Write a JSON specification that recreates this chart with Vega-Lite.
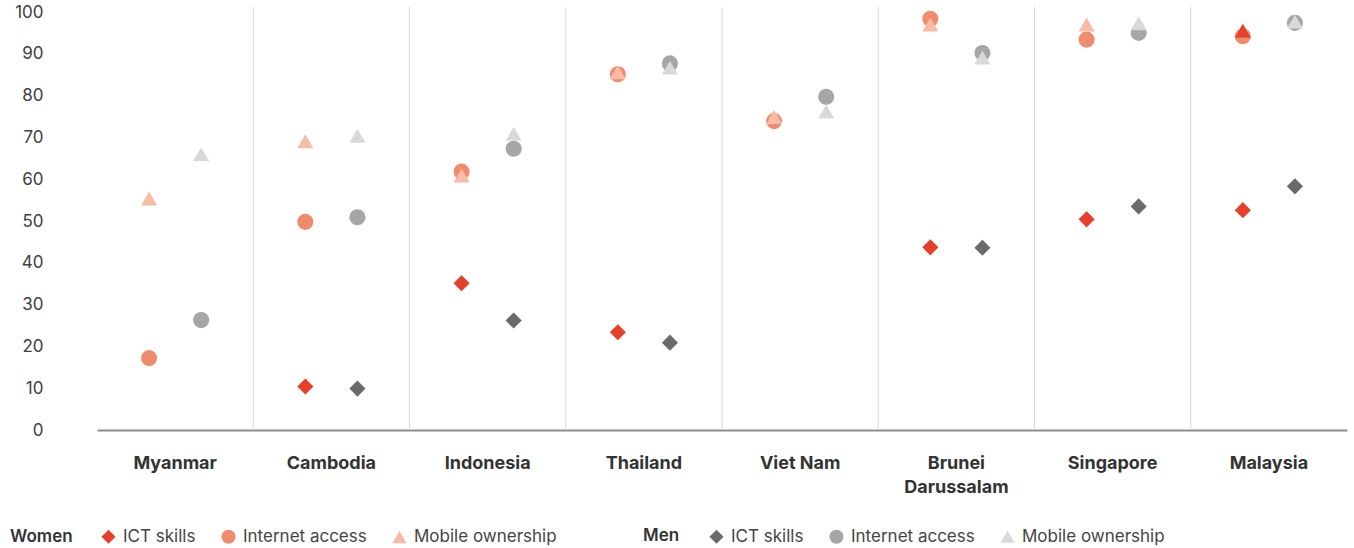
{
  "$schema": "https://vega.github.io/schema/vega-lite/v6.json",
  "width": 1250,
  "height": 423,
  "autosize": {"type": "none"},
  "padding": {"left": 97, "top": 7, "right": 7, "bottom": 118},
  "config": {
    "font": "Inter",
    "view": {"stroke": null},
    "axis": {"grid": false, "ticks": false, "title": null}
  },
  "data": {
    "values": [
      {"country": "Myanmar", "gender": "Women", "measure": "Internet access", "value": 17.2},
      {"country": "Myanmar", "gender": "Women", "measure": "Mobile ownership", "value": 55.4},
      {"country": "Myanmar", "gender": "Men", "measure": "Internet access", "value": 26.3},
      {"country": "Myanmar", "gender": "Men", "measure": "Mobile ownership", "value": 66.0},
      {"country": "Cambodia", "gender": "Women", "measure": "ICT skills", "value": 10.4},
      {"country": "Cambodia", "gender": "Women", "measure": "Internet access", "value": 49.8},
      {"country": "Cambodia", "gender": "Women", "measure": "Mobile ownership", "value": 69.1},
      {"country": "Cambodia", "gender": "Men", "measure": "ICT skills", "value": 9.9},
      {"country": "Cambodia", "gender": "Men", "measure": "Internet access", "value": 50.9},
      {"country": "Cambodia", "gender": "Men", "measure": "Mobile ownership", "value": 70.4},
      {"country": "Indonesia", "gender": "Women", "measure": "ICT skills", "value": 35.1},
      {"country": "Indonesia", "gender": "Women", "measure": "Internet access", "value": 61.8},
      {"country": "Indonesia", "gender": "Women", "measure": "Mobile ownership", "value": 60.9},
      {"country": "Indonesia", "gender": "Men", "measure": "ICT skills", "value": 26.2},
      {"country": "Indonesia", "gender": "Men", "measure": "Internet access", "value": 67.3},
      {"country": "Indonesia", "gender": "Men", "measure": "Mobile ownership", "value": 70.9},
      {"country": "Thailand", "gender": "Women", "measure": "ICT skills", "value": 23.4},
      {"country": "Thailand", "gender": "Women", "measure": "Internet access", "value": 85.1},
      {"country": "Thailand", "gender": "Women", "measure": "Mobile ownership", "value": 85.6},
      {"country": "Thailand", "gender": "Men", "measure": "ICT skills", "value": 20.9},
      {"country": "Thailand", "gender": "Men", "measure": "Internet access", "value": 87.7},
      {"country": "Thailand", "gender": "Men", "measure": "Mobile ownership", "value": 86.7},
      {"country": "Viet Nam", "gender": "Women", "measure": "Internet access", "value": 73.9},
      {"country": "Viet Nam", "gender": "Women", "measure": "Mobile ownership", "value": 74.9},
      {"country": "Viet Nam", "gender": "Men", "measure": "Internet access", "value": 79.7},
      {"country": "Viet Nam", "gender": "Men", "measure": "Mobile ownership", "value": 76.2},
      {"country": "Brunei Darussalam", "gender": "Women", "measure": "ICT skills", "value": 43.7},
      {"country": "Brunei Darussalam", "gender": "Women", "measure": "Internet access", "value": 98.4},
      {"country": "Brunei Darussalam", "gender": "Women", "measure": "Mobile ownership", "value": 97.0},
      {"country": "Brunei Darussalam", "gender": "Men", "measure": "ICT skills", "value": 43.6},
      {"country": "Brunei Darussalam", "gender": "Men", "measure": "Internet access", "value": 90.2},
      {"country": "Brunei Darussalam", "gender": "Men", "measure": "Mobile ownership", "value": 89.1},
      {"country": "Singapore", "gender": "Women", "measure": "ICT skills", "value": 50.4},
      {"country": "Singapore", "gender": "Women", "measure": "Internet access", "value": 93.4},
      {"country": "Singapore", "gender": "Women", "measure": "Mobile ownership", "value": 97.0},
      {"country": "Singapore", "gender": "Men", "measure": "ICT skills", "value": 53.5},
      {"country": "Singapore", "gender": "Men", "measure": "Internet access", "value": 95.0},
      {"country": "Singapore", "gender": "Men", "measure": "Mobile ownership", "value": 97.3},
      {"country": "Malaysia", "gender": "Women", "measure": "ICT skills", "value": 52.6},
      {"country": "Malaysia", "gender": "Women", "measure": "Internet access", "value": 94.2},
      {"country": "Malaysia", "gender": "Women", "measure": "Mobile ownership", "value": 95.5},
      {"country": "Malaysia", "gender": "Men", "measure": "ICT skills", "value": 58.3},
      {"country": "Malaysia", "gender": "Men", "measure": "Internet access", "value": 97.4},
      {"country": "Malaysia", "gender": "Men", "measure": "Mobile ownership", "value": 97.7}
    ]
  },
  "layer": [
    {
      "transform": [
        {"aggregate": [], "groupby": ["country"]},
        {"filter": "datum.country !== 'Myanmar'"}
      ],
      "mark": {"type": "rule", "color": "#D9D9D9", "strokeWidth": 1},
      "encoding": {
        "x": {
          "field": "country", "type": "nominal", "bandPosition": 0,
          "scale": {"domain": ["Myanmar", "Cambodia", "Indonesia", "Thailand", "Viet Nam", "Brunei Darussalam", "Singapore", "Malaysia"], "paddingInner": 0, "paddingOuter": 0},
          "axis": {
            "domain": true, "domainColor": "#8C8C8C", "domainWidth": 2,
            "labelFontSize": 18, "labelFontWeight": "bold", "labelColor": "#333333",
            "labelPadding": 24, "labelAngle": 0, "labelLineHeight": 24,
            "labelExpr": "datum.label == 'Brunei Darussalam' ? ['Brunei', 'Darussalam'] : datum.label"
          }
        }
      }
    },
    {
      "transform": [{"filter": "datum.gender === 'Women'"}],
      "mark": {"type": "point", "filled": true, "size": 260, "opacity": 1},
      "encoding": {
        "x": {"field": "country", "type": "nominal", "scale": {"domain": ["Myanmar", "Cambodia", "Indonesia", "Thailand", "Viet Nam", "Brunei Darussalam", "Singapore", "Malaysia"]}},
        "xOffset": {"field": "gender", "type": "nominal", "scale": {"type": "point", "domain": ["Women", "Men"], "padding": 1.032}},
        "y": {
          "field": "value", "type": "quantitative",
          "scale": {"domain": [0, 101.2], "nice": false},
          "axis": {"values": [0, 10, 20, 30, 40, 50, 60, 70, 80, 90, 100], "domain": false, "labelFontSize": 17, "labelColor": "#404040", "labelPadding": 54}
        },
        "fill": {
          "field": "measure", "type": "nominal",
          "scale": {"domain": ["ICT skills", "Internet access", "Mobile ownership"], "range": ["#E63F2A", "#F08C6E", "#F8BCA6"]},
          "legend": {"title": "Women", "orient": "none", "legendX": -87, "legendY": 521, "direction": "horizontal", "titleOrient": "left", "titleFontSize": 17, "titleFontWeight": 600, "titleColor": "#333333", "titlePadding": 27, "labelFontSize": 17, "labelColor": "#444444", "symbolSize": 200, "labelOffset": 6, "columnPadding": 22, "padding": 0}
        },
        "shape": {
          "field": "measure", "type": "nominal",
          "scale": {"domain": ["ICT skills", "Internet access", "Mobile ownership"], "range": ["diamond", "circle", "triangle-up"]},
          "legend": {"title": "Women", "orient": "none", "legendX": -87, "legendY": 521, "direction": "horizontal", "titleOrient": "left", "titleFontSize": 17, "titleFontWeight": 600, "titleColor": "#333333", "titlePadding": 27, "labelFontSize": 17, "labelColor": "#444444", "symbolSize": 200, "labelOffset": 6, "columnPadding": 22, "padding": 0}
        }
      }
    },
    {
      "transform": [{"filter": "datum.gender === 'Men'"}],
      "mark": {"type": "point", "filled": true, "size": 260, "opacity": 1},
      "encoding": {
        "x": {"field": "country", "type": "nominal", "scale": {"domain": ["Myanmar", "Cambodia", "Indonesia", "Thailand", "Viet Nam", "Brunei Darussalam", "Singapore", "Malaysia"]}},
        "xOffset": {"field": "gender", "type": "nominal", "scale": {"type": "point", "domain": ["Women", "Men"], "padding": 1.032}},
        "y": {"field": "value", "type": "quantitative"},
        "color": {
          "field": "measure", "type": "nominal",
          "scale": {"domain": ["ICT skills", "Internet access", "Mobile ownership"], "range": ["#6A6A6A", "#A6A6A6", "#D9D9D9"]},
          "legend": {"title": "Men", "orient": "none", "legendX": 546, "legendY": 521, "direction": "horizontal", "titleOrient": "left", "titleFontSize": 17, "titleFontWeight": 600, "titleColor": "#333333", "titlePadding": 28, "labelFontSize": 17, "labelColor": "#444444", "symbolSize": 200, "labelOffset": 6, "columnPadding": 24, "padding": 0}
        },
        "shape": {
          "field": "measure", "type": "nominal",
          "scale": {"domain": ["ICT skills", "Internet access", "Mobile ownership"], "range": ["diamond", "circle", "triangle-up"]},
          "legend": {"title": "Men", "orient": "none", "legendX": 546, "legendY": 521, "direction": "horizontal", "titleOrient": "left", "titleFontSize": 17, "titleFontWeight": 600, "titleColor": "#333333", "titlePadding": 28, "labelFontSize": 17, "labelColor": "#444444", "symbolSize": 200, "labelOffset": 6, "columnPadding": 24, "padding": 0}
        }
      }
    },
    {
      "transform": [{"filter": "datum.country === 'Malaysia' && datum.gender === 'Women' && datum.measure === 'Mobile ownership'"}],
      "mark": {"type": "point", "filled": true, "size": 260, "opacity": 1, "shape": "triangle-up", "fill": "#E63F2A"},
      "encoding": {
        "x": {"field": "country", "type": "nominal", "scale": {"domain": ["Myanmar", "Cambodia", "Indonesia", "Thailand", "Viet Nam", "Brunei Darussalam", "Singapore", "Malaysia"]}},
        "xOffset": {"field": "gender", "type": "nominal", "scale": {"type": "point", "domain": ["Women", "Men"], "padding": 1.032}},
        "y": {"field": "value", "type": "quantitative"}
      }
    }
  ],
  "resolve": {
    "scale": {"shape": "independent", "fill": "independent", "color": "independent"},
    "legend": {"shape": "independent", "fill": "independent", "color": "independent"}
  }
}
